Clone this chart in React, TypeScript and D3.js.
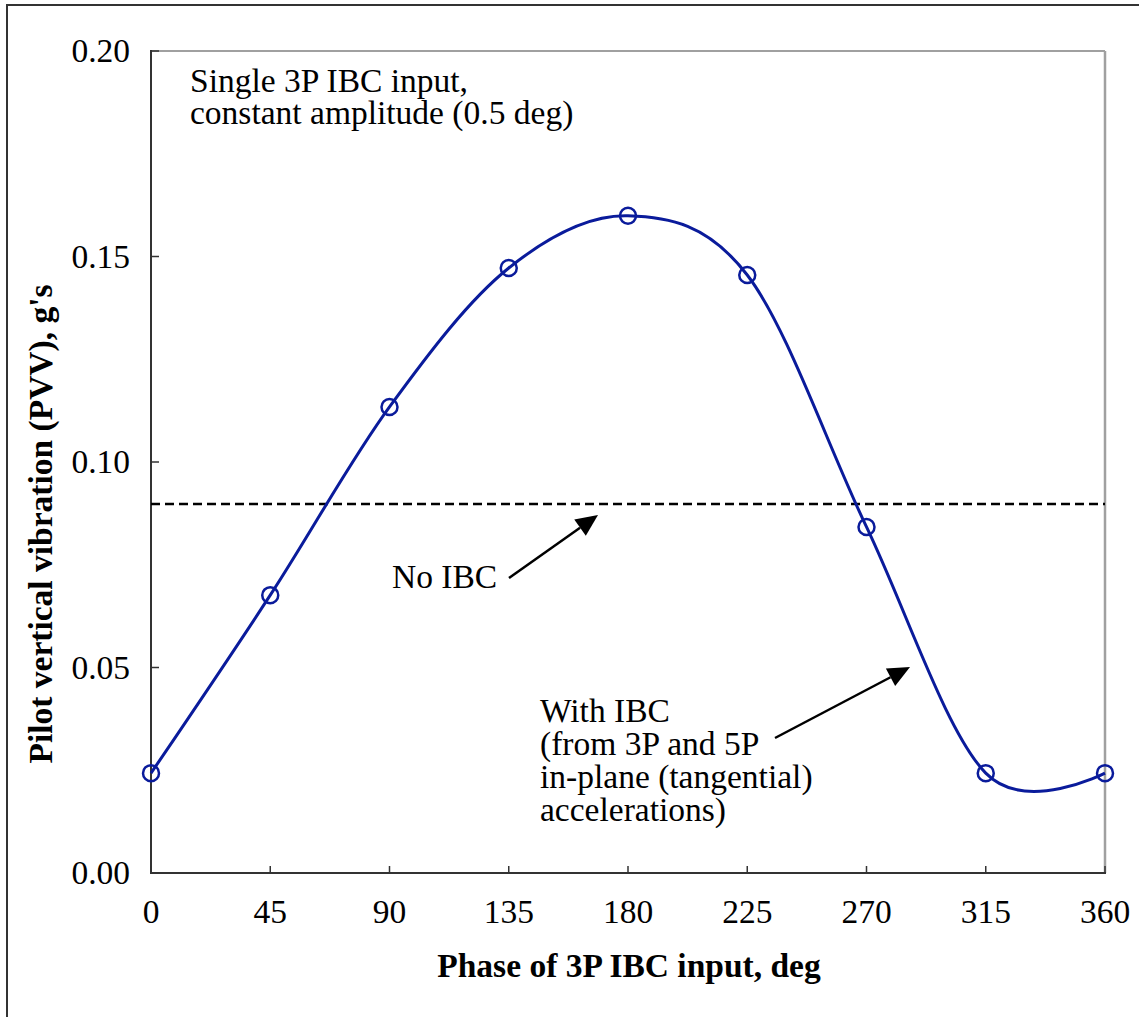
import React from "react";
import * as d3 from "d3";

const phases = [0, 45, 90, 135, 180, 225, 270, 315, 360];
const pvv = [0.0243, 0.0676, 0.1134, 0.1472, 0.1599, 0.1455, 0.0842, 0.0243, 0.0243];
const noIbc = 0.0898;
const xTicks = [0, 45, 90, 135, 180, 225, 270, 315, 360];
const yTicks = [0, 0.05, 0.1, 0.15, 0.2];
const titleLines = ["Single 3P IBC input,", "constant amplitude (0.5 deg)"];
const withLines = ["With IBC", "(from 3P and 5P", "in-plane (tangential)", "accelerations)"];

const W = 1139;
const H = 1017;
const L = 151, R = 1105, T = 51, B = 873;
const FONT = "Liberation Serif";
const FS = 33.5;
const BLUE = "#0a1b9b";

export default function App() {
  const x = d3.scaleLinear().domain([0, 360]).range([L, R]);
  const y = d3.scaleLinear().domain([0, 0.2]).range([B, T]);
  const pts: [number, number][] = phases.map((p, i) => [x(p), y(pvv[i])]);
  const line = d3.line<[number, number]>().curve(d3.curveCatmullRom.alpha(0))(pts) || "";

  const arrow = (x1: number, y1: number, x2: number, y2: number) => {
    const ang = Math.atan2(y2 - y1, x2 - x1);
    const len = 22, wid = 10;
    const bx = x2 - len * Math.cos(ang), by = y2 - len * Math.sin(ang);
    const px = -Math.sin(ang) * wid, py = Math.cos(ang) * wid;
    return (
      <g>
        <line x1={x1} y1={y1} x2={bx} y2={by} stroke="#000" strokeWidth={2.5} />
        <path d={`M${x2},${y2}L${bx + px},${by + py}L${bx - px},${by - py}Z`} fill="#000" />
      </g>
    );
  };

  return (
    <svg width={W} height={H} style={{ position: "absolute", left: 0, top: 0, background: "#fff" }}>
      <rect x={7} y={5} width={1150} height={1030} fill="#fff" stroke="#333" strokeWidth={2} />
      <line x1={L} y1={T} x2={R} y2={T} stroke="#a0a0a0" strokeWidth={2} />
      <line x1={R} y1={T} x2={R} y2={B} stroke="#a0a0a0" strokeWidth={2.5} />
      <line x1={L} y1={T - 1} x2={L} y2={B} stroke="#333" strokeWidth={2} />
      <line x1={L - 1} y1={B} x2={R + 1} y2={B} stroke="#333" strokeWidth={2} />
      {xTicks.map((t) => (
        <g key={"x" + t}>
          <line x1={x(t)} y1={B} x2={x(t)} y2={B - 7} stroke="#333" strokeWidth={1.5} />
          <text x={x(t)} y={923} textAnchor="middle" fontSize={FS} fontFamily={FONT} fill="#000">{t}</text>
        </g>
      ))}
      {yTicks.map((t) => (
        <g key={"y" + t}>
          <line x1={L} y1={y(t)} x2={L + 8} y2={y(t)} stroke="#333" strokeWidth={1.5} />
          <text x={130} y={y(t) + 11} textAnchor="end" fontSize={FS} fontFamily={FONT} fill="#000">{t.toFixed(2)}</text>
        </g>
      ))}
      <line x1={L} y1={y(noIbc)} x2={R} y2={y(noIbc)} stroke="#000" strokeWidth={2.5} strokeDasharray="9,5" />
      <path d={line} fill="none" stroke={BLUE} strokeWidth={3} />
      {pts.map(([px, py], i) => (
        <circle key={i} cx={px} cy={py} r={8} fill="none" stroke={BLUE} strokeWidth={2.5} />
      ))}
      {titleLines.map((s, i) => (
        <text key={s} x={190} y={92 + i * 32} fontSize={FS} fontFamily={FONT} fill="#000">{s}</text>
      ))}
      <text x={392} y={588} fontSize={FS} fontFamily={FONT} fill="#000">No IBC</text>
      {arrow(509, 578, 598, 515)}
      {withLines.map((s, i) => (
        <text key={s} x={540} y={722 + i * 33} fontSize={FS} fontFamily={FONT} fill="#000">{s}</text>
      ))}
      {arrow(775, 738, 910, 667)}
      <text x={629} y={977} textAnchor="middle" fontSize={FS} fontFamily={FONT} fontWeight="bold" fill="#000">Phase of 3P IBC input, deg</text>
      <text transform={`translate(52,${524}) rotate(-90)`} textAnchor="middle" fontSize={FS} fontFamily={FONT} fontWeight="bold" fill="#000">Pilot vertical vibration (PVV), g's</text>
    </svg>
  );
}
